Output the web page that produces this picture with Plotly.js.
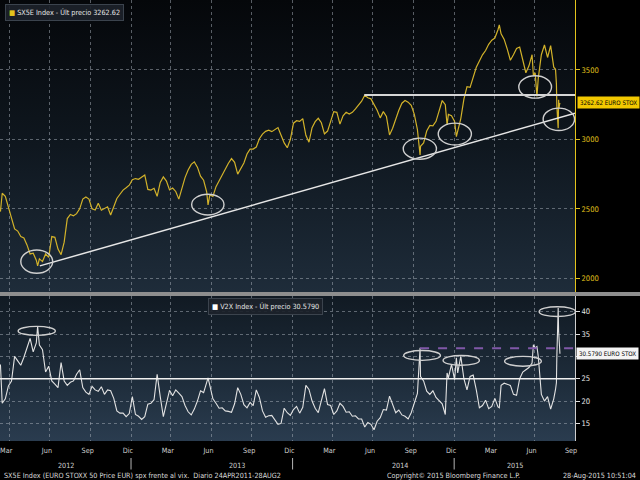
<!DOCTYPE html>
<html>
<head>
<meta charset="utf-8">
<script src="https://cdn.plot.ly/plotly-3.0.1.min.js"></script>
<style>
html,body{margin:0;padding:0;background:#000;}
#wrap{position:relative;width:640px;height:480px;overflow:hidden;background:#000;}
#bgTop{position:absolute;left:0;top:0;width:575px;height:292px;background:linear-gradient(to bottom,#05070a 0%,#0f171f 50%,#1e2c3a 100%);}
#bgBot{position:absolute;left:0;top:296px;width:575px;height:145px;background:linear-gradient(to bottom,#111a23 0%,#1d2b39 55%,#2a3c4f 100%);}
#band{position:absolute;left:0;top:292px;width:640px;height:4px;background:#8e8e8e;}
#chart{position:absolute;left:0;top:0;width:640px;height:480px;}
</style>
</head>
<body>
<div id="wrap">
  <div id="bgTop"></div>
  <div id="bgBot"></div>
  <div id="band"></div>
  <div id="chart"></div>
</div>
<script>
// ---------- data ----------
const dates2012 = ['2012-03-12','2012-03-16','2012-03-23','2012-03-30','2012-04-06','2012-04-13','2012-04-20','2012-04-27','2012-05-04','2012-05-11','2012-05-18','2012-05-25','2012-06-01','2012-06-04','2012-06-08','2012-06-15','2012-06-22','2012-06-29','2012-07-06','2012-07-13','2012-07-20','2012-07-27','2012-08-03','2012-08-10','2012-08-17','2012-08-24','2012-08-31','2012-09-07','2012-09-14','2012-09-21','2012-09-28','2012-10-05','2012-10-12','2012-10-19','2012-10-26','2012-11-02','2012-11-09','2012-11-16','2012-11-23','2012-11-30','2012-12-07','2012-12-14','2012-12-21','2012-12-28'];
const sx5e2012 = [2480,2612,2590,2516,2432,2355,2340,2300,2290,2240,2175,2180,2130,2089,2140,2120,2175,2150,2300,2295,2210,2170,2260,2430,2460,2450,2465,2500,2570,2585,2570,2500,2492,2540,2490,2505,2515,2455,2520,2575,2605,2635,2652,2670];
const v2x2012 = [28.2,19.5,20.5,23.4,24.5,30.0,29.0,28.0,29.8,32.2,34.0,31.0,33.0,36.7,32.5,31.5,26.5,27.8,24.5,23.8,23.0,28.6,24.5,23.5,24.2,24.5,26.0,27.0,23.0,22.0,21.5,23.3,22.5,22.2,23.2,21.5,22.5,22.3,20.6,17.8,17.3,17.3,16.5,17.2];

const dates2013 = ['2013-01-04','2013-01-11','2013-01-18','2013-01-25','2013-02-01','2013-02-08','2013-02-15','2013-02-22','2013-03-01','2013-03-08','2013-03-15','2013-03-22','2013-03-29','2013-04-05','2013-04-12','2013-04-19','2013-04-26','2013-05-03','2013-05-10','2013-05-17','2013-05-24','2013-05-31','2013-06-07','2013-06-14','2013-06-21','2013-06-24','2013-06-28','2013-07-05','2013-07-12','2013-07-19','2013-07-26','2013-08-02','2013-08-09','2013-08-16','2013-08-23','2013-08-30','2013-09-06','2013-09-13','2013-09-20','2013-09-27','2013-10-04','2013-10-11','2013-10-18','2013-10-25','2013-11-01','2013-11-08','2013-11-15','2013-11-22','2013-11-29','2013-12-06','2013-12-13','2013-12-20','2013-12-27'];
const sx5e2013 = [2710,2718,2713,2730,2744,2640,2635,2648,2590,2690,2730,2700,2636,2650,2625,2570,2648,2725,2780,2820,2838,2800,2735,2706,2620,2528,2600,2590,2660,2705,2750,2795,2828,2862,2835,2750,2790,2830,2895,2930,2930,2945,3005,3038,3058,3066,3056,3072,3085,3030,2975,2940,3000];
const v2x2013 = [21.0,17.0,16.6,15.9,16.5,19.3,19.5,20.3,26.0,21.0,16.5,19.5,22.4,21.2,22.5,21.8,21.0,19.0,17.6,16.9,18.2,20.0,22.3,21.9,24.0,25.2,23.5,20.5,19.5,18.4,18.5,17.8,17.7,17.5,19.4,23.0,21.5,19.2,18.5,19.7,19.0,22.5,20.8,17.8,16.4,16.7,16.8,15.8,14.8,15.0,18.4,17.4,16.8];

const dates2014 = ['2014-01-03','2014-01-10','2014-01-17','2014-01-24','2014-01-31','2014-02-07','2014-02-14','2014-02-21','2014-02-28','2014-03-07','2014-03-14','2014-03-21','2014-03-28','2014-04-04','2014-04-11','2014-04-18','2014-04-25','2014-05-02','2014-05-09','2014-05-16','2014-05-23','2014-05-30','2014-06-06','2014-06-13','2014-06-20','2014-06-27','2014-07-04','2014-07-11','2014-07-18','2014-07-25','2014-08-01','2014-08-08','2014-08-15','2014-08-22','2014-08-29','2014-09-05','2014-09-12','2014-09-19','2014-09-26','2014-10-03','2014-10-10','2014-10-16','2014-10-17','2014-10-24','2014-10-31','2014-11-07','2014-11-14','2014-11-21','2014-11-28','2014-12-05','2014-12-12','2014-12-16','2014-12-19','2014-12-26'];
const sx5e2014 = [3117,3135,3130,3150,3030,2980,3085,3128,3152,3120,3040,3060,3130,3200,3195,3110,3170,3195,3183,3195,3220,3250,3275,3318,3300,3292,3250,3210,3155,3200,3165,3032,3080,3150,3210,3261,3280,3268,3245,3180,3070,2888,2950,2975,3060,3100,3097,3130,3210,3280,3250,3104,3180,3170];
const v2x2014 = [18.1,18.8,17.3,18.6,23.5,22.6,20.0,18.4,17.4,19.9,22.8,19.2,19.0,17.0,17.8,19.5,18.8,17.5,17.6,16.6,16.7,16.0,16.0,14.2,15.2,14.8,13.6,15.5,16.3,18.1,18.0,21.1,19.0,17.4,18.0,16.9,16.6,16.0,17.4,19.6,21.7,31.9,25.5,24.5,22.2,21.5,22.3,20.8,20.0,19.4,17.0,26.3,25.2,28.2];

const dates2015 = ['2015-01-02','2015-01-06','2015-01-09','2015-01-16','2015-01-23','2015-01-30','2015-02-06','2015-02-13','2015-02-20','2015-02-27','2015-03-06','2015-03-13','2015-03-20','2015-03-27','2015-04-03','2015-04-10','2015-04-13','2015-04-17','2015-04-24','2015-05-01','2015-05-08','2015-05-15','2015-05-22','2015-05-29','2015-06-05','2015-06-12','2015-06-19','2015-06-26','2015-06-29','2015-07-03','2015-07-07','2015-07-10','2015-07-17','2015-07-24','2015-07-31','2015-08-07','2015-08-14','2015-08-18','2015-08-20','2015-08-21','2015-08-24','2015-08-25','2015-08-26','2015-08-27','2015-08-28'];
const sx5e2015 = [3130,3020,3060,3150,3290,3380,3375,3440,3520,3565,3609,3640,3685,3715,3730,3790,3825,3760,3720,3650,3570,3610,3655,3665,3570,3480,3530,3610,3460,3480,3309,3440,3610,3680,3590,3675,3520,3505,3400,3240,3081,3285,3225,3250,3262.62];
const v2x2015 = [24.8,29.7,26.3,30.0,25.0,22.5,25.5,25.8,22.5,18.5,19.0,20.2,18.3,18.8,20.6,18.7,18.5,23.5,24.0,23.8,23.5,21.5,21.3,25.0,26.5,27.0,27.5,28.5,32.6,31.9,32.2,30.0,21.5,20.0,21.0,18.2,20.5,22.6,24.1,30.0,40.8,35.6,33.0,31.5,30.579];

// axis ticks / labels
const quarterStarts = ['2012-04-01','2012-07-01','2012-10-01','2013-01-01','2013-04-01','2013-07-01','2013-10-01','2014-01-01','2014-04-01','2014-07-01','2014-10-01','2015-01-01','2015-04-01','2015-07-01'];
const monthLabelDates = ['2012-03-25','2012-06-25','2012-09-25','2012-12-25','2013-03-25','2013-06-25','2013-09-25','2013-12-25','2014-03-25','2014-06-25','2014-09-25','2014-12-25','2015-03-25','2015-06-25','2015-09-22'];
const monthLabels = ['Mar','Jun','Sep','Dic','Mar','Jun','Sep','Dic','Mar','Jun','Sep','Dic','Mar','Jun','Sep'];
const yearLabels = ['2012','2013','2014','2015'];
const yearLabelDates = ['2012-08-07','2013-08-28','2014-09-01','2015-05-18'];
const yearStarts = ['2013-01-01','2014-01-01','2015-01-01'];
const sx5eTicks = [2000,2500,3000,3500];
const v2xTicks = [15,20,25,30,35,40];
const v2xTickText = ['15','20','25','','35','40'];

const lastSX5E = 3262.62;
const lastV2X = 30.5790;

// ---------- assemble ----------
const dates = [...dates2012, ...dates2013, ...dates2014, ...dates2015];
const sx5e = [...sx5e2012, ...sx5e2013, ...sx5e2014, ...sx5e2015];
const v2x = [...v2x2012, ...v2x2013, ...v2x2014, ...v2x2015];
if (dates.length !== sx5e.length || dates.length !== v2x.length) {
  throw new Error('length mismatch ' + dates.length + ' ' + sx5e.length + ' ' + v2x.length);
}

const FONT = '"Liberation Sans Narrow","DejaVu Sans Condensed","Arial Narrow",sans-serif';
const FS = 7.2;
const YEL = '#e3c31c';
const GRID = 'rgba(170,178,188,0.5)';
const XR = ['2012-03-11','2015-10-01'];

const traces = [
  {x: dates, y: sx5e, type: 'scatter', mode: 'lines', xaxis: 'x', yaxis: 'y',
   line: {color: '#d2b22a', width: 1.2}, hoverinfo: 'skip'},
  {x: dates, y: v2x, type: 'scatter', mode: 'lines', xaxis: 'x2', yaxis: 'y2',
   line: {color: '#e2e2e2', width: 1.1}, hoverinfo: 'skip'}
];

function ell(x0, x1, y0, y1, xr, yr) {
  return {type: 'circle', xref: xr, yref: yr, x0: x0, x1: x1, y0: y0, y1: y1,
          line: {color: '#cfcfcf', width: 1.4}};
}

const shapes = [
  {type: 'line', xref: 'x', yref: 'y', x0: '2012-06-09', y0: 2089, x1: '2015-10-01', y1: 3189,
   line: {color: '#e6e6e6', width: 1.5}},
  {type: 'line', xref: 'x', yref: 'y', x0: '2014-06-12', y0: 3319, x1: '2015-10-01', y1: 3319,
   line: {color: '#d6d6d6', width: 2}},
  ell('2012-04-27','2012-07-08',2036,2204,'x','y'),
  ell('2013-05-18','2013-07-30',2456,2605,'x','y'),
  ell('2014-09-08','2014-11-22',2857,3009,'x','y'),
  ell('2014-11-26','2015-02-09',2960,3117,'x','y'),
  ell('2015-05-27','2015-08-09',3297,3458,'x','y'),
  ell('2015-07-21','2015-09-30',3064,3225,'x','y'),
  {type: 'line', xref: 'x2', yref: 'y2', x0: XR[0], y0: 25, x1: XR[1], y1: 25,
   line: {color: '#f0f0f0', width: 1.5}},
  {type: 'line', xref: 'x2', yref: 'y2', x0: '2014-10-16', y0: 31.8, x1: XR[1], y1: 31.8,
   line: {color: '#8058a8', width: 2, dash: 'dash'}},
  ell('2012-04-21','2012-07-14',34.7,36.7,'x2','y2'),
  ell('2014-09-09','2014-12-01',29.1,31.3,'x2','y2'),
  ell('2014-12-07','2015-02-27',28.0,30.2,'x2','y2'),
  ell('2015-04-25','2015-07-17',27.8,30.0,'x2','y2'),
  ell('2015-07-12','2015-10-02',38.9,41.1,'x2','y2')
];

const annotations = [
  {xref: 'paper', yref: 'paper', x: 5/575, y: 1 - 4/441, xanchor: 'left', yanchor: 'top', showarrow: false,
   text: '<span style="color:' + YEL + '">\u25A0</span> SX5E Index - \u00DAlt precio ' + lastSX5E.toFixed(2),
   font: {family: FONT, size: FS, color: '#e6e6e6'}, bgcolor: 'rgba(28,34,42,0.92)', bordercolor: '#3b434d',
   borderwidth: 1, borderpad: 3},
  {xref: 'paper', yref: 'paper', x: 208/575, y: 1 - 298/441, xanchor: 'left', yanchor: 'top', showarrow: false,
   text: '<span style="color:#ffffff">\u25A0</span> V2X Index - \u00DAlt precio ' + lastV2X.toFixed(4),
   font: {family: FONT, size: FS, color: '#e6e6e6'}, bgcolor: 'rgba(28,34,42,0.92)', bordercolor: '#3b434d',
   borderwidth: 1, borderpad: 3},
  {xref: 'paper', yref: 'y', x: 1, y: lastSX5E, xanchor: 'left', xshift: 2, showarrow: false,
   text: lastSX5E.toFixed(2) + ' EURO STOX', font: {family: FONT, size: 6.2, color: '#000'},
   bgcolor: '#f2c800', borderpad: 2},
  {xref: 'paper', yref: 'y2', x: 1, y: lastV2X, xanchor: 'left', xshift: 1, showarrow: false,
   text: lastV2X.toFixed(4) + ' EURO STOX', font: {family: FONT, size: 6.2, color: '#000'},
   bgcolor: '#f4f4f4', borderpad: 2},
  {xref: 'paper', yref: 'paper', x: 2/575, y: -34/441, xanchor: 'left', yanchor: 'middle', showarrow: false,
   text: 'SX5E Index (EURO STOXX 50 Price EUR) spx frente al vix.  Diario 24APR2011-28AUG2',
   font: {family: FONT, size: FS, color: '#dcdcdc'}},
  {xref: 'paper', yref: 'paper', x: 385/575, y: -34/441, xanchor: 'left', yanchor: 'middle', showarrow: false,
   text: 'Copyright\u00A9 2015 Bloomberg Finance L.P.', font: {family: FONT, size: FS, color: '#dcdcdc'}},
  {xref: 'paper', yref: 'paper', x: 638/575, y: -34/441, xanchor: 'right', yanchor: 'middle', showarrow: false,
   text: '28-Aug-2015 10:51:04', font: {family: FONT, size: FS, color: '#dcdcdc'}}
];
yearLabels.forEach((t, i) => annotations.push({xref: 'x2', yref: 'paper', x: yearLabelDates[i], y: -24/441,
  yanchor: 'middle', showarrow: false, text: t, font: {family: FONT, size: FS, color: '#d0d0d0'}}));
yearStarts.forEach(d => annotations.push({xref: 'x2', yref: 'paper', x: d, y: -17/441, text: '',
  showarrow: true, arrowhead: 0, arrowwidth: 1, arrowcolor: '#b4b4b4', ax: 0, ay: 13, standoff: 0}));

const layout = {
  width: 640, height: 480,
  margin: {l: 0, r: 65, t: 0, b: 39, pad: 0},
  paper_bgcolor: 'rgba(0,0,0,0)', plot_bgcolor: 'rgba(0,0,0,0)',
  showlegend: false,
  font: {family: FONT, size: FS, color: '#d0d0d0'},
  xaxis: {type: 'date', domain: [0, 1], anchor: 'y', range: XR, tickmode: 'array', tickvals: quarterStarts,
          showticklabels: false, ticks: '', showgrid: true, gridcolor: GRID, griddash: 'dot', gridwidth: 1,
          zeroline: false, showline: false, fixedrange: true},
  yaxis: {domain: [1 - 292/441, 1], anchor: 'x', side: 'right', range: [1901, 4004], tickmode: 'array',
          tickvals: sx5eTicks, ticks: 'outside', ticklen: 4, tickcolor: YEL, tickwidth: 1,
          tickfont: {family: FONT, size: 7.6, color: YEL}, showline: true, linecolor: YEL, linewidth: 1,
          showgrid: true, gridcolor: GRID, griddash: 'dot', zeroline: false, fixedrange: true},
  xaxis2: {type: 'date', domain: [0, 1], anchor: 'y2', range: XR, tickmode: 'array', tickvals: monthLabelDates,
          ticktext: monthLabels, ticks: '', showgrid: false, zeroline: false, showline: false,
          tickfont: {family: FONT, size: FS, color: '#d0d0d0'}, ticklabelstandoff: 4,
          minor: {tickmode: 'array', tickvals: quarterStarts, showgrid: true, gridcolor: GRID, griddash: 'dot',
                  gridwidth: 1, ticks: ''}, fixedrange: true},
  yaxis2: {domain: [0, 145/441], anchor: 'x2', side: 'right', range: [11.07, 43.5], tickmode: 'array',
          tickvals: v2xTicks, ticktext: v2xTickText, ticks: 'outside', ticklen: 4, tickcolor: '#e0e0e0', tickwidth: 1,
          tickfont: {family: FONT, size: 7.6, color: '#e8e8e8'}, showline: true, linecolor: '#cfcfcf', linewidth: 1,
          showgrid: true, gridcolor: GRID, griddash: 'dot', zeroline: false, fixedrange: true},
  shapes: shapes,
  annotations: annotations
};

Plotly.newPlot('chart', traces, layout, {displayModeBar: false, staticPlot: true});
</script>
</body>
</html>
